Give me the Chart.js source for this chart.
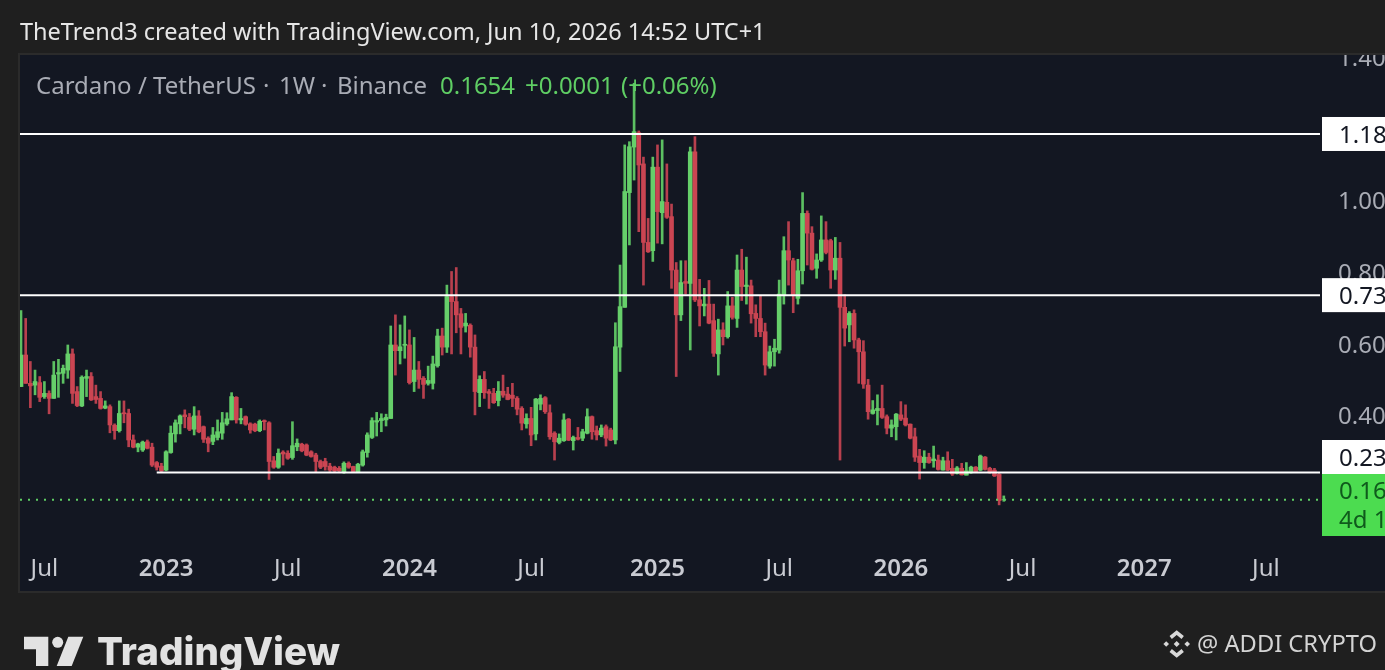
<!DOCTYPE html>
<html><head><meta charset="utf-8">
<style>html,body{margin:0;padding:0;background:#1f1f1f;overflow:hidden}canvas{display:block}</style>
<script src="https://cdn.jsdelivr.net/npm/chart.js@4/dist/chart.umd.min.js"></script>
</head><body><canvas id="c" width="1385" height="670"></canvas>
<script>
const opens=[.481,.569,.490,.485,.492,.453,.462,.448,.516,.518,.527,.572,.467,.427,.504,.509,.453,.448,.421,.425,.373,.358,.408,.406,.332,.312,.304,.327,.312,.269,.259,.248,.297,.349,.377,.402,.395,.362,.399,.369,.337,.328,.339,.351,.377,.388,.451,.388,.397,.377,.376,.358,.386,.380,.274,.256,.298,.295,.283,.313,.320,.318,.299,.290,.272,.272,.259,
.256,.253,.241,.267,.258,.243,.262,.297,.339,.382,.386,.388,.392,.597,.581,.596,.597,.495,.527,.504,.490,.490,.539,.622,.591,.732,.718,.684,.650,.652,.591,.464,.501,.467,.462,.442,.468,.460,.457,.448,.420,.377,.392,.349,.432,.450,.408,.351,.325,.330,.390,.330,.339,.337,.351,.397,.358,.346,.369,.360,.332,
.591,.702,1.022,1.149,1.189,1.102,.883,.860,1.093,.966,.995,.955,.806,.681,.774,.769,1.136,.723,.706,.711,.665,.572,.639,.620,.706,.671,.806,.760,.762,.685,.671,.634,.538,.578,.583,.737,.860,.832,.727,.804,.964,.909,.811,.834,.890,.888,.806,.839,.702,.653,.685,.611,.578,.485,.406,.414,.420,.397,.365,.369,.402,.393,.376,.341,.287,.269,.284,.274,.276,.248,.274,.253,.239,.253,.234,.241,.256,.248,.284,.253,.248,.236,.1653];
const closes=[.569,.490,.483,.495,.451,.462,.448,.513,.520,.532,.572,.462,.428,.507,.509,.444,.445,.420,.427,.374,.358,.406,.405,.332,.312,.321,.326,.309,.262,.256,.246,.299,.351,.380,.399,.397,.362,.399,.355,.334,.323,.346,.355,.380,.391,.453,.388,.392,.376,.360,.358,.384,.383,.272,.256,.295,.293,.281,.316,.323,.302,.290,.286,.272,.256,.258,.248,
.246,.246,.267,.256,.244,.264,.299,.346,.386,.386,.392,.395,.597,.581,.592,.599,.492,.527,.501,.487,.498,.544,.622,.591,.732,.718,.681,.646,.658,.591,.467,.501,.464,.462,.436,.468,.457,.445,.448,.418,.379,.392,.346,.446,.448,.411,.341,.327,.337,.388,.332,.339,.334,.355,.397,.355,.346,.365,.337,.332,.592,
.704,1.025,1.150,1.192,1.099,.883,.857,1.093,.969,.997,.953,.806,.681,.771,.769,1.136,.723,.706,.711,.658,.574,.639,.620,.706,.674,.806,.760,.764,.684,.671,.634,.541,.578,.588,.739,.860,.834,.737,.804,.964,.909,.808,.834,.890,.855,.806,.839,.702,.644,.685,.611,.578,.488,.411,.416,.420,.395,.365,.374,.404,.390,.374,.337,.284,.269,.284,.269,.279,.250,.274,.248,.237,.254,.235,.246,.256,.244,.287,.250,.241,.232,.163,.1654];
const highs=[.693,.671,.551,.527,.509,.495,.469,.551,.557,.541,.597,.586,.481,.511,.527,.520,.485,.467,.441,.430,.377,.441,.441,.418,.346,.323,.329,.332,.323,.272,.267,.302,.371,.388,.402,.416,.406,.425,.414,.371,.341,.367,.388,.409,.408,.464,.453,.420,.399,.380,.379,.388,.388,.383,.286,.307,.302,.302,.383,.335,.323,.321,.302,.295,.276,.281,.267,
.259,.258,.271,.271,.259,.267,.304,.352,.394,.409,.405,.404,.650,.681,.653,.678,.639,.618,.551,.509,.538,.566,.641,.644,.764,.802,.813,.699,.685,.656,.625,.511,.523,.473,.476,.495,.513,.479,.490,.453,.425,.405,.423,.448,.458,.453,.430,.355,.349,.405,.392,.343,.367,.362,.419,.399,.371,.374,.374,.365,.659,
.820,1.155,1.164,1.327,1.194,1.121,.950,1.121,1.155,1.169,1.102,.990,.827,.832,.832,1.149,1.178,.780,.755,.777,.711,.669,.659,.746,.730,.848,.864,.842,.778,.709,.734,.658,.594,.613,.778,.899,.941,.839,.836,1.022,.971,.927,.851,.957,.941,.892,.897,.883,.737,.690,.695,.616,.609,.501,.442,.458,.485,.402,.388,.406,.439,.430,.377,.365,.306,.302,.295,.315,.290,.284,.299,.278,.258,.267,.269,.259,.258,.290,.286,.256,.253,.239,.176];
const lows=[.481,.490,.422,.458,.439,.448,.405,.448,.451,.490,.504,.434,.425,.425,.453,.442,.434,.418,.419,.352,.334,.354,.380,.313,.310,.299,.300,.307,.258,.248,.241,.246,.295,.326,.349,.366,.358,.346,.352,.325,.299,.319,.332,.334,.373,.388,.379,.377,.373,.351,.355,.355,.360,.222,.253,.253,.262,.278,.278,.302,.299,.288,.284,.241,.252,.248,.244,
.241,.244,.239,.253,.241,.241,.259,.284,.336,.343,.355,.371,.392,.513,.544,.560,.488,.467,.476,.448,.485,.474,.535,.569,.576,.572,.631,.572,.633,.563,.402,.425,.448,.420,.434,.427,.451,.444,.425,.402,.360,.365,.316,.332,.416,.406,.334,.276,.321,.328,.330,.304,.332,.330,.349,.334,.332,.341,.315,.330,.321,
.523,.702,.876,1.057,.913,.764,.855,.830,.881,.879,.950,.755,.509,.665,.739,.583,.718,.650,.678,.656,.565,.513,.597,.616,.669,.646,.721,.711,.658,.620,.620,.513,.532,.538,.574,.711,.764,.687,.711,.767,.820,.806,.783,.830,.851,.755,.780,.276,.594,.606,.588,.490,.476,.390,.404,.374,.392,.349,.341,.332,.386,.371,.335,.272,.223,.253,.267,.256,.248,.248,.246,.233,.237,.234,.234,.239,.241,.246,.248,.239,.230,.151,.161];
const priceTicks=[0.20,0.40,0.60,0.80,1.00,1.20,1.40];
const timeTicks=[5,31,57,83,109,136,162,188,214,240,266];
const timeLabels=['Jul','2023','Jul','2024','Jul','2025','Jul','2026','Jul','2027','Jul'];
const levelHigh=1.1855, levelMid=0.736, levelLow=0.241, lastPrice=0.1654;
const levelLowStartWeek=29;
const xMin=-0.214, xMax=277.56, yMin=0.0335, yMax=1.4086;
const UP='#66cf6a', DOWN='#cb4552', UPW='#5cc062', DOWNW='#b8404e', BG='#1f1f1f', PANEL='#131722';
const FONT='"Noto Sans"';
const up=i=>closes[i]>=opens[i];
const flat=(v,a,b)=>[{x:a,y:v},{x:b,y:v}];
const lineDs=(v,a)=>({type:'line',data:flat(v,a,xMax),borderColor:'#ffffff',borderWidth:2,pointRadius:0,order:0});

const overlay={id:'overlay',
beforeDraw(c){const x=c.ctx;x.fillStyle=BG;x.fillRect(0,0,1385,670);x.fillStyle=PANEL;x.fillRect(20,54,1365,537);},
afterDraw(c){const x=c.ctx;const y=c.scales.y;x.save();
 x.fillStyle=BG;x.fillRect(0,0,1385,53);
 x.fillStyle='#2b2b2b';x.fillRect(18,53,1367,2);x.fillRect(18,53,2,540);x.fillRect(18,591,1367,2);
 x.textBaseline='middle';x.textAlign='left';
 x.fillStyle='#e6e6e6';x.font='23.5px '+FONT;x.fillText('TheTrend3 created with TradingView.com, Jun 10, 2026 14:52 UTC+1',20,33);
 x.font='24px '+FONT;x.fillStyle='#a9acb5';
 x.fillText('Cardano / TetherUS',36,87);x.fillText('·',263,87);x.fillText('1W',279,87);x.fillText('·',321,87);x.fillText('Binance',337,87);
 x.fillStyle='#5fce64';x.fillText('0.1654',440,87);x.fillText('+0.0001',525,87);x.fillText('(+0.06%)',621,87);
 const box=(t,yc,h)=>{x.fillStyle='#ffffff';x.fillRect(1322,yc-h/2,63,h);x.fillStyle='#131722';x.font='24px '+FONT;x.fillText(t,1339,yc+2);};
 box('1.18',y.getPixelForValue(levelHigh),34);
 box('0.73',y.getPixelForValue(levelMid),34);
 x.fillStyle='#ffffff';x.fillRect(1322,440,63,34);x.fillStyle='#131722';x.font='24px '+FONT;x.fillText('0.23',1339,459);
 x.fillStyle='#4cdc50';x.fillRect(1322,474,63,62);
 x.fillStyle='#0f5a1c';x.fillText('0.16',1339,492);x.fillText('4d 1',1339,521);
 x.fillStyle='#e2e2e2';
 x.beginPath();[[24,636.7],[48.3,636.7],[48.3,666],[36,666],[36,649.3],[24,649.3]].forEach((p,i)=>i?x.lineTo(p[0],p[1]):x.moveTo(p[0],p[1]));x.fill();
 x.beginPath();x.arc(57.7,642.3,5.5,0,7);x.fill();
 x.beginPath();[[68.3,636.7],[83.3,636.7],[71.7,666],[56.7,666]].forEach((p,i)=>i?x.lineTo(p[0],p[1]):x.moveTo(p[0],p[1]));x.fill();
 x.font='800 38.5px Inter';x.fillText('TradingView',97,653);
 x.fillStyle='#d8d8d8';const cx=1176.7,cy=644;
 const d=(a,b,r)=>{x.beginPath();x.moveTo(a-r,b);x.lineTo(a,b-r);x.lineTo(a+r,b);x.lineTo(a,b+r);x.fill();};
 d(cx,cy,3);d(cx-10.5,cy,2.8);d(cx+10.5,cy,2.8);
 x.lineWidth=3.6;x.strokeStyle='#d8d8d8';
 x.beginPath();x.moveTo(cx-6,cy-6.5);x.lineTo(cx,cy-11.5);x.lineTo(cx+6,cy-6.5);x.stroke();
 x.beginPath();x.moveTo(cx-6,cy+6.5);x.lineTo(cx,cy+11.5);x.lineTo(cx+6,cy+6.5);x.stroke();
 x.fillStyle='#d4d4d4';x.font='23.7px '+FONT;x.fillText('@ ADDI CRYPTO',1197,645);
 x.restore();}
};
new Chart(document.getElementById('c'),{
 type:'bar',
 data:{datasets:[
  {data:highs.map((h,i)=>({x:i,y:[lows[i],h]})),barThickness:2,grouped:false,order:3,backgroundColor:highs.map((_,i)=>up(i)?UPW:DOWNW)},
  {data:opens.map((o,i)=>({x:i,y:[o,closes[i]]})),barThickness:4,grouped:false,order:2,backgroundColor:opens.map((_,i)=>up(i)?UP:DOWN)},
  lineDs(levelHigh,xMin),lineDs(levelMid,xMin),lineDs(levelLow,levelLowStartWeek),
  {type:'line',data:flat(lastPrice,xMin,xMax),borderColor:'#5fce64',borderWidth:2,borderDash:[2,6],pointRadius:0,order:1}
 ]},
 options:{responsive:false,animation:false,devicePixelRatio:1,
  layout:{padding:{left:20,top:54,right:0,bottom:79}},
  plugins:{legend:{display:false},tooltip:{enabled:false}},
  scales:{
   x:{type:'linear',offset:false,min:xMin,max:xMax,grid:{display:false},border:{display:false},
    afterBuildTicks:s=>{s.ticks=timeTicks.map(v=>({value:v}));},
    afterFit:s=>{s.height=44;},
    ticks:{autoSkip:false,maxRotation:0,padding:0,
     font:ctx=>{const yr=ctx.tick&&/^20/.test(timeLabels[timeTicks.indexOf(ctx.tick.value)]);return{family:FONT,size:24,weight:yr?'600':'400'};},
     color:'#c9cbd2',
     callback:v=>timeLabels[timeTicks.indexOf(v)]}},
   y:{position:'right',min:yMin,max:yMax,grid:{display:false},border:{display:false},
    afterBuildTicks:s=>{s.ticks=priceTicks.map(v=>({value:v}));},
    afterFit:s=>{s.width=65;},
    ticks:{padding:10,labelOffset:2,font:{family:FONT,size:24},color:'#a9acb5',callback:v=>v.toFixed(2)}}
  }},
 plugins:[overlay]
});
</script></body></html>
